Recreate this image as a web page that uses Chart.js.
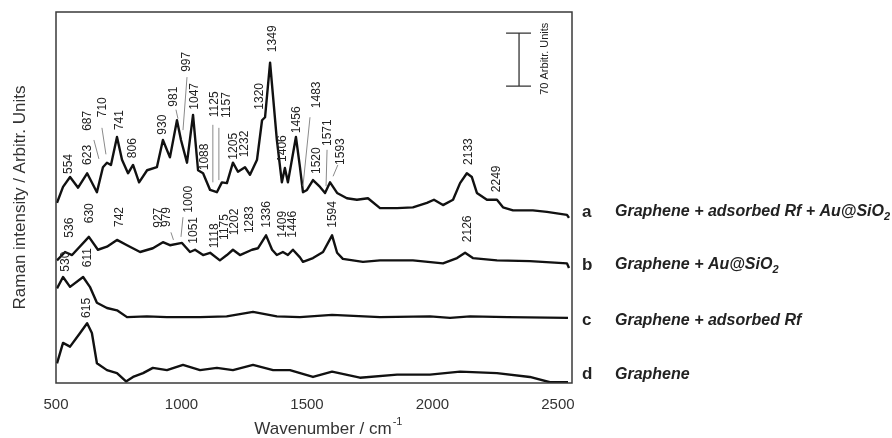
<!DOCTYPE html>
<html>
<head>
<meta charset="utf-8">
<script src="https://cdn.jsdelivr.net/npm/chart.js@4"></script>
<style>
  html, body { margin: 0; padding: 0; background: #fff; }
</style>
</head>
<body>
<canvas id="raman" width="892" height="438"></canvas>
<script>
// spectra: wavenumber (cm-1) and offset intensity (arbitr. units)
const waveA = [504,528,556,588,624,663,687,703,719,743,763,787,807,831,863,902,926,954,982,998,1022,1046,1066,1086,1114,1141,1161,1181,1205,1225,1253,1273,1301,1321,1333,1353,1380,1400,1412,1424,1456,1472,1484,1500,1524,1552,1572,1592,1620,1659,1699,1743,1791,1859,1922,1978,2006,2042,2082,2110,2137,2157,2177,2217,2257,2281,2321,2400,2456,2536,2544];
const intA  = [238,259,272,258,277,252,285,291,288,325,295,277,288,265,281,285,321,298,347,321,291,354,281,277,255,252,265,264,291,279,285,275,295,347,351,423,321,265,284,265,325,285,252,255,268,259,251,265,251,244,242,244,231,231,232,238,242,235,242,264,277,272,251,242,242,232,228,228,226,222,218];

const waveB = [504,536,564,631,667,703,743,783,835,886,926,954,1002,1034,1054,1086,1114,1153,1181,1205,1233,1281,1305,1337,1361,1380,1404,1424,1444,1472,1484,1524,1564,1600,1620,1643,1723,1791,1922,2042,2098,2130,2161,2257,2388,2536,2544];
const intB  = [162,173,169,193,176,180,189,182,173,178,186,182,185,173,176,169,172,162,169,176,169,176,178,195,176,169,173,169,176,166,160,165,173,195,172,164,160,162,162,158,165,172,165,162,161,158,152];

const waveC = [504,528,556,608,635,663,703,743,783,862,942,1074,1180,1285,1380,1472,1600,1791,1990,2070,2150,2300,2540];
const intC  = [125,140,127,140,127,106,99,96,87,88,87,87,88,94,88,87,90,87,88,86,88,87,86];

const waveD = [504,528,556,596,624,643,663,703,743,779,807,847,886,942,1006,1074,1141,1205,1285,1365,1432,1524,1600,1711,1859,1990,2110,2257,2388,2468,2540];
const intD  = [26,53,48,66,79,66,26,17,13,2,8,13,20,17,24,17,20,17,24,17,17,8,15,7,11,11,15,13,8,1,1];

const seriesLetters = ["a", "b", "c", "d"];
const seriesNames = [
  ["Graphene + adsorbed Rf + Au@SiO", "2"],
  ["Graphene + Au@SiO", "2"],
  ["Graphene + adsorbed Rf", ""],
  ["Graphene", ""]
];
const xTicks = [500, 1000, 1500, 2000, 2500];

// peak labels: text, where the (rotated) label starts, in data units
const peakText = ["554","623","687","710","741","806","930","981","997","1047","1088","1125","1157","1205","1232","1320","1349","1406","1456","1483","1520","1571","1593","2133","2249",
                  "536","630","742","927","979","1000","1051","1118","1175","1202","1283","1336","1409","1446","1594","2126",
                  "530","611","615"];
const peakX = [552,627,627,687,755,807,926,970,1022,1054,1094,1133,1181,1209,1253,1313,1365,1404,1460,1540,1540,1584,1635,2145,2257,
               556,635,755,910,942,1030,1050,1133,1173,1213,1273,1341,1404,1444,1604,2141,
               540,627,624];
const peakY = [276,288,333,351,334,297,328,365,411,361,281,351,350,295,298,361,437,292,330,363,276,313,288,288,252,
               192,211,206,205,206,225,184,178,189,195,198,205,192,192,205,186,
               147,153,86];
// thin leader lines from label to peak
const leadX1 = [651,683,978,1022,1125,1149,1512,1580,1623,958,1006];
const leadY1 = [321,337,361,404,341,337,351,308,288,199,219];
const leadX2 = [671,699,986,1006,1125,1149,1484,1576,1604,968,998];
const leadY2 = [296,302,349,334,265,268,260,260,273,189,193];

const FONT = "'Liberation Sans', Arial, sans-serif";

const annotate = {
  id: "annotate",
  afterDraw(chart) {
    const { ctx, chartArea: a, scales: { x, y } } = chart;
    ctx.save();

    // frame round the plot
    ctx.strokeStyle = "#3a3a3a";
    ctx.lineWidth = 1.5;
    ctx.strokeRect(a.left, a.top, a.right - a.left, a.bottom - a.top);

    // leaders
    ctx.strokeStyle = "#8a8a8a";
    ctx.lineWidth = 1;
    leadX1.forEach((v, i) => {
      ctx.beginPath();
      ctx.moveTo(x.getPixelForValue(v), y.getPixelForValue(leadY1[i]));
      ctx.lineTo(x.getPixelForValue(leadX2[i]), y.getPixelForValue(leadY2[i]));
      ctx.stroke();
    });

    // peak labels, rotated
    ctx.fillStyle = "#222";
    ctx.font = "12px " + FONT;
    ctx.textAlign = "left";
    ctx.textBaseline = "middle";
    peakText.forEach((t, i) => {
      ctx.save();
      ctx.translate(x.getPixelForValue(peakX[i]), y.getPixelForValue(peakY[i]));
      ctx.rotate(-Math.PI / 2);
      ctx.fillText(t, 0, 0);
      ctx.restore();
    });

    // 70 units scale bar
    const bx = x.getPixelForValue(2345);
    const b0 = y.getPixelForValue(392), b1 = y.getPixelForValue(392 + 70);
    ctx.strokeStyle = "#333";
    ctx.lineWidth = 1.3;
    ctx.beginPath();
    ctx.moveTo(bx, b0); ctx.lineTo(bx, b1);
    ctx.moveTo(bx - 13, b0); ctx.lineTo(bx + 12, b0);
    ctx.moveTo(bx - 13, b1); ctx.lineTo(bx + 12, b1);
    ctx.stroke();
    ctx.save();
    ctx.translate(bx + 26, (b0 + b1) / 2 - 1);
    ctx.rotate(-Math.PI / 2);
    ctx.font = "11px " + FONT;
    ctx.textAlign = "center";
    ctx.fillText("70 Arbitr. Units", 0, 0);
    ctx.restore();

    // series letters and names on the right
    const rowY = [226, 156, 83, 11];
    seriesLetters.forEach((l, i) => {
      const py = y.getPixelForValue(rowY[i]);
      ctx.font = "bold 17px " + FONT;
      ctx.textAlign = "left";
      ctx.fillStyle = "#222";
      ctx.fillText(l, a.right + 10, py);
      const [main, sub] = seriesNames[i];
      ctx.font = "italic bold 16px " + FONT;
      ctx.fillText(main, a.right + 43, py);
      if (sub) {
        const w = ctx.measureText(main).width;
        ctx.font = "italic bold 11px " + FONT;
        ctx.fillText(sub, a.right + 43 + w, py + 5);
      }
    });

    // axis titles
    ctx.fillStyle = "#333";
    ctx.font = "17px " + FONT;
    ctx.textAlign = "left";
    const xt = "Wavenumber / cm";
    const xw = ctx.measureText(xt).width;
    const x0 = (a.left + a.right) / 2 + 14 - (xw + 10) / 2;
    ctx.fillText(xt, x0, 429);
    ctx.font = "11px " + FONT;
    ctx.fillText("-1", x0 + xw + 1, 422);

    ctx.save();
    ctx.translate(20, (a.top + a.bottom) / 2);
    ctx.rotate(-Math.PI / 2);
    ctx.font = "17px " + FONT;
    ctx.textAlign = "center";
    ctx.fillText("Raman intensity / Arbitr. Units", 0, 0);
    ctx.restore();

    ctx.restore();
  }
};

const trace = (xs, ys) => xs.map((v, i) => ({ x: v, y: ys[i] }));
const lineStyle = { borderColor: "#111", borderWidth: 2.4, borderJoinStyle: "round", pointRadius: 0, tension: 0, fill: false };

new Chart(document.getElementById("raman"), {
  type: "line",
  data: {
    datasets: [
      { label: "a", data: trace(waveA, intA), ...lineStyle },
      { label: "b", data: trace(waveB, intB), ...lineStyle },
      { label: "c", data: trace(waveC, intC), ...lineStyle },
      { label: "d", data: trace(waveD, intD), ...lineStyle }
    ]
  },
  options: {
    responsive: false,
    animation: false,
    layout: { padding: { left: 56, top: 12, right: 320, bottom: 0 } },
    scales: {
      x: {
        type: "linear",
        min: 500,
        max: 2556,
        afterBuildTicks: s => { s.ticks = xTicks.map(v => ({ value: v })); },
        afterFit: s => { s.height = 55; },
        grid: { display: false, drawTicks: false },
        border: { display: false },
        ticks: {
          color: "#333",
          padding: 13,
          maxRotation: 0,
          font: { family: FONT, size: 15 },
          callback: v => String(v)
        }
      },
      y: { display: false, min: 0, max: 490 }
    },
    plugins: {
      legend: { display: false },
      tooltip: { enabled: false }
    }
  },
  plugins: [annotate]
});
</script>
</body>
</html>
